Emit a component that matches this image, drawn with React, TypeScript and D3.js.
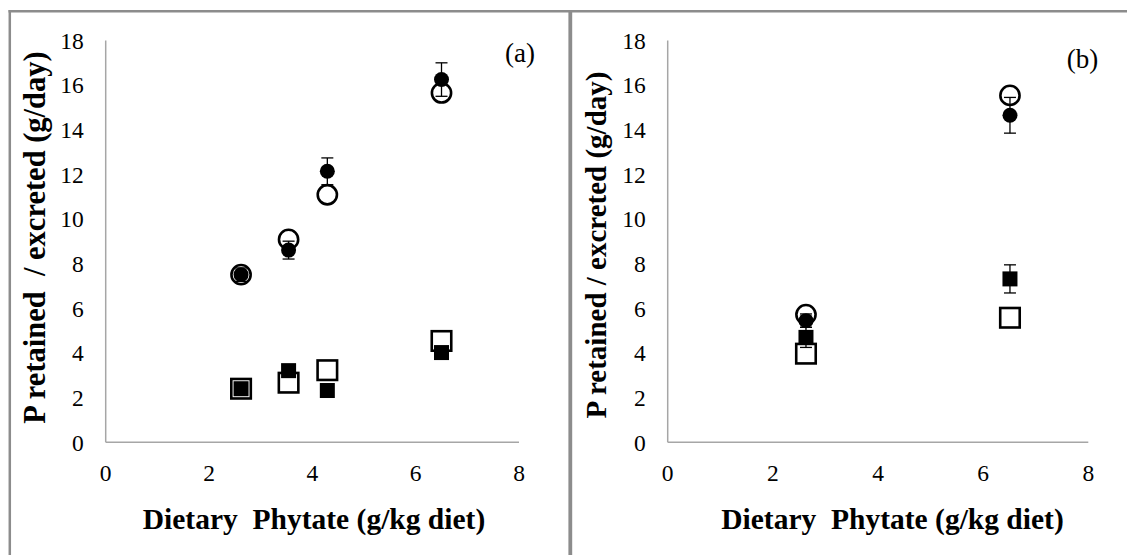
import React from "react";
import * as d3 from "d3";

// Dietary phytate levels (g/kg diet)
const phytateA = [2.62, 3.54, 4.29, 6.5];
const phytateB = [2.63, 6.51];

// Panel (a): P retained / excreted (g/day)
const retainedFilledA = [7.51, 8.61, 12.14, 16.25];
const retainedFilledErrA = [0.3, 0.4, 0.6, 0.75];
const retainedOpenA = [7.51, 9.09, 11.09, 15.65];
const excretedOpenA = [2.4, 2.67, 3.23, 4.54];
const excretedFilledA = [2.4, 3.21, 2.32, 4.02];

// Panel (b)
const retainedFilledB = [5.45, 14.65];
const retainedFilledErrB = [0.3, 0.8];
const retainedOpenB = [5.72, 15.54];
const excretedOpenB = [3.97, 5.58];
const excretedFilledB = [4.7, 7.32];
const excretedFilledErrB = [0.45, 0.63];

const xTicks = [0, 2, 4, 6, 8];
const yTicks = [0, 2, 4, 6, 8, 10, 12, 14, 16, 18];

const SERIF = "Liberation Serif, DejaVu Serif, serif";

type PanelProps = {
  x0: number;
  x1: number;
  label: string;
  labelX: number;
  labelY: number;
  yTitle: string;
  yTitleSize: number;
  yTitleX: number;
  yTitleY: number;
  xTitleX: number;
  xs: number[];
  filled: number[];
  filledErr: number[];
  open: number[];
  sqOpen: number[];
  sqFilled: number[];
  sqFilledErr?: number[];
};

function Panel(p: PanelProps) {
  const x = d3.scaleLinear().domain([0, 8]).range([p.x0, p.x1]);
  const y = d3.scaleLinear().domain([0, 18]).range([442.3, 40.5]);
  const axisColor = "#a6a6a6";
  const rOpen = 9.6;
  const rFilled = 7.5;
  const sOpen = 19.5;
  const sFilled = 15;
  const cap = 6;
  const txt = { fontFamily: SERIF, whiteSpace: "pre" as const };

  const errBar = (cx: number, v: number, e: number, key: string) => (
    <g key={key} stroke="#000" strokeWidth={1.3}>
      <line x1={cx} x2={cx} y1={y(v - e)} y2={y(v + e)} />
      <line x1={cx - cap} x2={cx + cap} y1={y(v + e)} y2={y(v + e)} />
      <line x1={cx - cap} x2={cx + cap} y1={y(v - e)} y2={y(v - e)} />
    </g>
  );

  return (
    <g>
      {/* axes */}
      <line x1={p.x0} x2={p.x0} y1={y(18)} y2={y(0)} stroke={axisColor} strokeWidth={1.5} />
      <line x1={p.x0} x2={p.x1} y1={y(0)} y2={y(0)} stroke={axisColor} strokeWidth={1.5} />
      {yTicks.map((t) => (
        <text key={"y" + t} x={p.x0 - 22} y={y(t)} dy="0.35em" textAnchor="end"
          style={txt} fontSize={23.5} fill="#000">{t}</text>
      ))}
      {xTicks.map((t) => (
        <text key={"x" + t} x={x(t)} y={481} textAnchor="middle"
          style={txt} fontSize={23.5} fill="#000">{t}</text>
      ))}
      <text x={p.xTitleX} y={529} textAnchor="middle" style={txt} fontSize={29.5}
        fontWeight="bold" fill="#000">
        {"Dietary  Phytate (g/kg diet)"}
      </text>
      <text transform={`translate(${p.yTitleX},${p.yTitleY}) rotate(-90)`} textAnchor="middle"
        style={txt} fontSize={p.yTitleSize} fontWeight="bold" fill="#000">
        {p.yTitle}
      </text>
      <text x={p.labelX} y={p.labelY} textAnchor="middle" style={txt} fontSize={27} fill="#000">
        {p.label}
      </text>

      {/* open markers */}
      {p.xs.map((d, i) => (
        <rect key={"so" + i} x={x(d) - sOpen / 2} y={y(p.sqOpen[i]) - sOpen / 2} width={sOpen} height={sOpen}
          fill="none" stroke="#000" strokeWidth={2.6} />
      ))}
      {p.xs.map((d, i) => (
        <circle key={"co" + i} cx={x(d)} cy={y(p.open[i])} r={rOpen} fill="none" stroke="#000" strokeWidth={2.6} />
      ))}

      {/* filled markers with error bars */}
      {p.xs.map((d, i) =>
        p.sqFilledErr ? errBar(x(d), p.sqFilled[i], p.sqFilledErr[i], "se" + i) : null
      )}
      {p.xs.map((d, i) => (
        <rect key={"sf" + i} x={x(d) - sFilled / 2} y={y(p.sqFilled[i]) - sFilled / 2} width={sFilled} height={sFilled}
          fill="#000" />
      ))}
      {p.xs.map((d, i) => errBar(x(d), p.filled[i], p.filledErr[i], "ce" + i))}
      {p.xs.map((d, i) => (
        <circle key={"cf" + i} cx={x(d)} cy={y(p.filled[i])} r={rFilled} fill="#000" />
      ))}
    </g>
  );
}

export default function App() {
  const frame = "#8c8c8c";
  return (
    <svg width={1127} height={555} style={{ position: "absolute", left: 0, top: 0, background: "#fff" }}>
      <rect x={0} y={0} width={1127} height={555} fill="#fff" />
      {/* panel frames */}
      <line x1={8.5} x2={1127} y1={11.2} y2={11.2} stroke={frame} strokeWidth={2.5} />
      <line x1={9.8} x2={9.8} y1={10} y2={555} stroke={frame} strokeWidth={2.5} />
      <line x1={570.3} x2={570.3} y1={10} y2={555} stroke={frame} strokeWidth={3.8} />

      <Panel
        x0={105.7} x1={519} label="(a)" labelX={520} labelY={62}
        yTitle={"P retained  / excreted (g/day)"} yTitleSize={30.5} yTitleX={45} yTitleY={237.5} xTitleX={314}
        xs={phytateA} filled={retainedFilledA} filledErr={retainedFilledErrA} open={retainedOpenA}
        sqOpen={excretedOpenA} sqFilled={excretedFilledA}
      />
      <Panel
        x0={667.7} x1={1088.3} label="(b)" labelX={1082.5} labelY={68}
        yTitle={"P retained / excreted (g/day)"} yTitleSize={29} yTitleX={606} yTitleY={245} xTitleX={892.5}
        xs={phytateB} filled={retainedFilledB} filledErr={retainedFilledErrB} open={retainedOpenB}
        sqOpen={excretedOpenB} sqFilled={excretedFilledB} sqFilledErr={excretedFilledErrB}
      />
    </svg>
  );
}
